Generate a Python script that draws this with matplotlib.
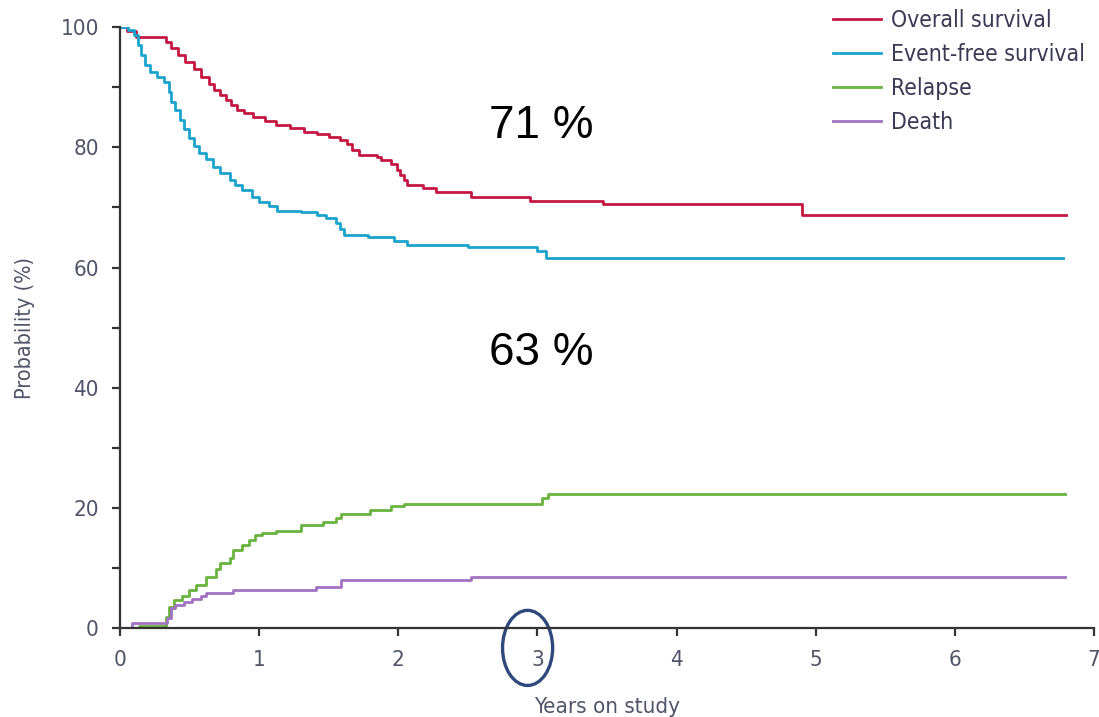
import matplotlib
matplotlib.use("Agg")
import matplotlib.pyplot as plt
from matplotlib.patches import Ellipse

# Kaplan-Meier style step data (years, % after each step)
os_t = [0, 0.05, 0.12, 0.33, 0.37, 0.42, 0.47, 0.53, 0.58, 0.64, 0.68, 0.72, 0.76, 0.80,
        0.84, 0.89, 0.96, 1.04, 1.12, 1.22, 1.32, 1.42, 1.50, 1.58, 1.63, 1.67, 1.72,
        1.85, 1.88, 1.95, 1.99, 2.01, 2.04, 2.06, 2.18, 2.27, 2.52, 2.95, 3.47, 4.90, 6.80]
os_v = [100, 99.3, 98.4, 97.5, 96.5, 95.3, 94.2, 93.1, 91.7, 90.6, 89.5, 88.7, 87.9, 87.0,
        86.2, 85.7, 85.1, 84.4, 83.7, 83.2, 82.6, 82.2, 81.7, 81.2, 80.5, 79.5, 78.7,
        78.4, 77.9, 77.3, 76.2, 75.4, 74.5, 73.7, 73.2, 72.5, 71.8, 71.1, 70.5, 68.7, 68.7]

efs_t = [0, 0.06, 0.10, 0.13, 0.15, 0.18, 0.22, 0.27, 0.32, 0.35, 0.37, 0.40, 0.43, 0.46,
         0.50, 0.53, 0.57, 0.62, 0.67, 0.72, 0.79, 0.83, 0.88, 0.95, 1.00, 1.07, 1.13,
         1.30, 1.42, 1.48, 1.55, 1.58, 1.61, 1.78, 1.97, 2.06, 2.50, 3.00, 3.06, 6.78]
efs_v = [100, 99.5, 98.7, 97.0, 95.3, 93.7, 92.6, 91.7, 90.9, 89.2, 87.6, 86.2, 84.5, 83.0,
         81.6, 80.2, 79.0, 78.0, 76.8, 75.7, 74.6, 73.7, 72.9, 71.8, 70.9, 70.2, 69.5,
         69.2, 68.7, 68.2, 67.4, 66.4, 65.5, 65.1, 64.4, 63.8, 63.4, 62.7, 61.6, 61.6]

rel_t = [0.14, 0.33, 0.35, 0.39, 0.45, 0.50, 0.55, 0.62, 0.69, 0.72, 0.79, 0.81, 0.88,
         0.93, 0.97, 1.02, 1.12, 1.30, 1.46, 1.55, 1.59, 1.80, 1.95, 2.04, 3.03, 3.08, 6.79]
rel_v = [0.4, 1.8, 3.5, 4.6, 5.4, 6.3, 7.2, 8.5, 9.9, 10.8, 11.6, 13.0, 13.8,
         14.6, 15.5, 15.9, 16.2, 17.1, 17.6, 18.3, 19.0, 19.7, 20.3, 20.6, 21.6, 22.4, 22.4]

death_t = [0.09, 0.34, 0.37, 0.40, 0.46, 0.52, 0.58, 0.62, 0.81, 1.41, 1.59, 2.52, 6.79]
death_v = [0.9, 1.6, 3.3, 3.8, 4.3, 4.9, 5.3, 5.8, 6.3, 6.8, 8.0, 8.5, 8.5]

labels = ["Overall survival", "Event-free survival", "Relapse", "Death"]
colors = ["#c41744", "#1ba3cd", "#69b33f", "#a272c2"]

fig = plt.figure(figsize=(10.99, 7.17), dpi=100)
ax = fig.add_axes([0.109, 0.124, 0.8865, 0.838])

lw = 2.0
ax.step(os_t, os_v, where="post", color=colors[0], lw=lw, label=labels[0])
ax.step(efs_t, efs_v, where="post", color=colors[1], lw=lw, label=labels[1])
ax.step([0] + rel_t, [0] + rel_v, where="post", color=colors[2], lw=lw, label=labels[2])
ax.step([0.07] + death_t, [0] + death_v, where="post", color=colors[3], lw=lw, label=labels[3])

ax.set_xlim(0, 7)
ax.set_ylim(0, 100)
ax.set_xticks(range(0, 8))
ax.set_yticks(range(0, 101, 20))
ax.set_yticks(range(10, 100, 20), minor=True)

for s in ["top", "right"]:
    ax.spines[s].set_visible(False)
for s in ["left", "bottom"]:
    ax.spines[s].set_color("#333333")
    ax.spines[s].set_linewidth(1.6)

font = dict(family="DejaVu Sans", stretch="condensed")
ax.tick_params(axis="both", which="both", direction="out", length=6, width=1.6,
               color="#333333", labelcolor="#4f5468", labelsize=16)
ax.tick_params(axis="x", pad=10)
ax.tick_params(axis="y", pad=9)
for lab in ax.get_xticklabels() + ax.get_yticklabels():
    lab.set_fontstretch("condensed")

ax.set_xlabel("Years on study", fontsize=16, color="#4f5468", labelpad=19, **font)
ax.set_ylabel("Probability (%)", fontsize=15.5, color="#4f5468", labelpad=18, **font)

leg = ax.legend(loc="upper right", bbox_to_anchor=(1.0, 1.045), frameon=False,
                borderaxespad=0, handlelength=2.1, handletextpad=0.45, labelspacing=0.48,
                prop={"family": "DejaVu Sans", "stretch": "condensed", "size": 16.5})
for t in leg.get_texts():
    t.set_color("#3a3a55")

ax.text(3.03, 83.5, "71 %", fontsize=33, family="Liberation Sans", ha="center", va="center")
ax.text(3.03, 45.8, "63 %", fontsize=33, family="Liberation Sans", ha="center", va="center")

ax.add_patch(Ellipse((2.93, -3.3), 0.36, 12.5, fill=False, edgecolor="#2e4a7c",
                     lw=2.4, clip_on=False))

fig.savefig("out.png", dpi=100)
